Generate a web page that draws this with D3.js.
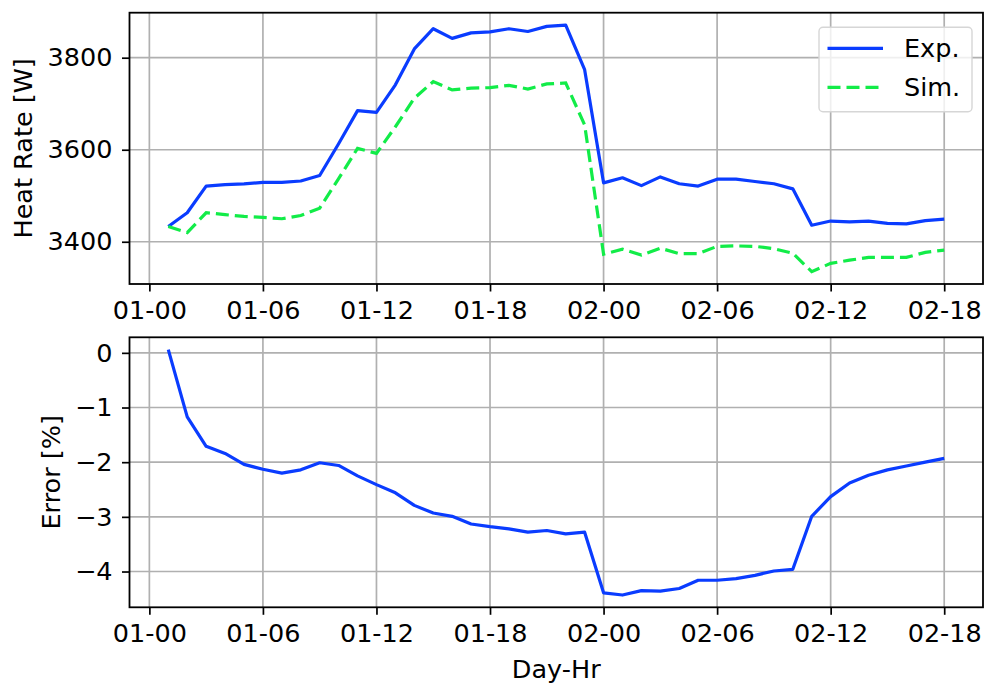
<!DOCTYPE html>
<html>
<head>
<meta charset="utf-8">
<script src="https://cdn.jsdelivr.net/npm/d3@7"></script>
<style>
  body { margin: 0; background: #fff; }
  text { font-family: "DejaVu Sans", sans-serif; fill: #000; }
</style>
</head>
<body>
<div id="chart"></div>
<script>
// hours since 01-00
var hours = d3.range(1, 43);
var tickHours = [0, 6, 12, 18, 24, 30, 36, 42];
var tickLabels = ["01-00", "01-06", "01-12", "01-18", "02-00", "02-06", "02-12", "02-18"];

var expRate = [3433, 3463, 3521, 3524, 3526, 3529, 3529, 3532, 3544, 3613,
  3685, 3681, 3741, 3819, 3863, 3842, 3854, 3856, 3863, 3857,
  3868, 3871, 3774, 3528, 3539, 3522, 3541, 3526, 3521, 3536,
  3536, 3531, 3526, 3515, 3436, 3445, 3443, 3445, 3440, 3439,
  3446, 3449];
var simRate = [3433, 3420, 3463, 3459, 3455, 3453, 3450, 3457, 3473, 3537,
  3603, 3592, 3650, 3712, 3748, 3730, 3734, 3735, 3740, 3732,
  3743, 3745, 3654, 3373, 3384, 3371, 3386, 3374, 3374, 3390,
  3391, 3390, 3385, 3375, 3335, 3353, 3360, 3366, 3366, 3366,
  3377, 3382];
var errPct = [0.06, -1.17, -1.71, -1.84, -2.04, -2.13, -2.20, -2.14, -2.01, -2.06,
  -2.25, -2.41, -2.56, -2.79, -2.93, -2.99, -3.13, -3.18, -3.22, -3.28,
  -3.25, -3.31, -3.28, -4.39, -4.43, -4.35, -4.36, -4.31, -4.16, -4.16,
  -4.13, -4.07, -3.99, -3.96, -2.99, -2.63, -2.38, -2.24, -2.14, -2.07,
  -2.00, -1.93];

var W = 985, H = 686;
var left = 129.5, right = 983;
var fs = "25.5px";
var blue = "#0a3cff", green = "#12ec48";
var dash = "13,6";

var svg = d3.select("#chart").append("svg")
  .attr("width", W).attr("height", H);

function pad(ext) {
  var m = (ext[1] - ext[0]) * 0.05;
  return [ext[0] - m, ext[1] + m];
}

var x = d3.scaleLinear()
  .domain(pad(d3.extent(hours)))
  .range([left, right]);

function panel(top, bottom, yDomain, yTicks, yFmt, ylab, ylabX) {
  var y = d3.scaleLinear().domain(yDomain).range([bottom, top]);
  var g = svg.append("g");

  // grid
  g.selectAll(".vg").data(tickHours).enter().append("line")
    .attr("x1", d => x(d)).attr("x2", d => x(d))
    .attr("y1", top).attr("y2", bottom)
    .attr("stroke", "#b0b0b0").attr("stroke-width", 1.7);
  g.selectAll(".hg").data(yTicks).enter().append("line")
    .attr("x1", left).attr("x2", right)
    .attr("y1", d => y(d)).attr("y2", d => y(d))
    .attr("stroke", "#b0b0b0").attr("stroke-width", 1.7);

  // axes
  var xa = g.append("g").attr("transform", "translate(0," + bottom + ")")
    .call(d3.axisBottom(x).tickValues(tickHours)
      .tickFormat((d, i) => tickLabels[i])
      .tickSize(7.5).tickPadding(9.5));
  var ya = g.append("g").attr("transform", "translate(" + left + ",0)")
    .call(d3.axisLeft(y).tickValues(yTicks).tickFormat(yFmt)
      .tickSize(7.5).tickPadding(9.5));
  [xa, ya].forEach(a => {
    a.select(".domain").remove();
    a.selectAll("line").attr("stroke", "#000").attr("stroke-width", 1.7);
    a.selectAll("text").style("font-size", fs)
      .style("font-family", "DejaVu Sans, sans-serif");
  });

  g.append("rect")
    .attr("x", left).attr("y", top)
    .attr("width", right - left).attr("height", bottom - top)
    .attr("fill", "none").attr("stroke", "#000").attr("stroke-width", 1.8);

  g.append("text")
    .attr("transform", "translate(" + ylabX + "," + ((top + bottom) / 2) + ") rotate(-90)")
    .attr("text-anchor", "middle")
    .style("font-size", fs)
    .text(ylab);
  return y;
}

var line = (ys, yScale) => d3.line()
  .x((d, i) => x(hours[i]))
  .y(d => yScale(d))(ys);

// top panel
var yTop = panel(12.7, 284, pad([d3.min(simRate), d3.max(expRate)]),
  [3400, 3600, 3800], d3.format("d"), "Heat Rate [W]", 32);

svg.append("path").attr("d", line(expRate, yTop))
  .attr("fill", "none").attr("stroke", blue).attr("stroke-width", 3.2)
  .attr("stroke-linejoin", "round");
svg.append("path").attr("d", line(simRate, yTop))
  .attr("fill", "none").attr("stroke", green).attr("stroke-width", 3.2)
  .attr("stroke-dasharray", dash);

// legend
var lg = svg.append("g").attr("transform", "translate(819,27.3)");
lg.append("rect").attr("width", 153).attr("height", 84.5).attr("rx", 4)
  .attr("fill", "#fff").attr("fill-opacity", 0.8)
  .attr("stroke", "#d6d6d6").attr("stroke-width", 1.4);
var legendItems = [["Exp.", blue, null], ["Sim.", green, dash]];
legendItems.forEach((it, i) => {
  var yy = 21 + i * 39;
  lg.append("line").attr("x1", 8.5).attr("x2", 64).attr("y1", yy).attr("y2", yy)
    .attr("stroke", it[1]).attr("stroke-width", 3.2)
    .attr("stroke-dasharray", it[2]);
  lg.append("text").attr("x", 85).attr("y", yy).attr("dy", "0.35em")
    .style("font-size", fs).text(it[0]);
});

// bottom panel
var yBot = panel(337.3, 607.3, pad(d3.extent(errPct)),
  [0, -1, -2, -3, -4], d => d < 0 ? "\u2212" + Math.abs(d) : d, "Error [%]", 60);

svg.append("path").attr("d", line(errPct, yBot))
  .attr("fill", "none").attr("stroke", blue).attr("stroke-width", 3.2)
  .attr("stroke-linejoin", "round");

svg.append("text")
  .attr("x", (left + right) / 2).attr("y", 678)
  .attr("text-anchor", "middle")
  .style("font-size", fs)
  .text("Day-Hr");
</script>
</body>
</html>
